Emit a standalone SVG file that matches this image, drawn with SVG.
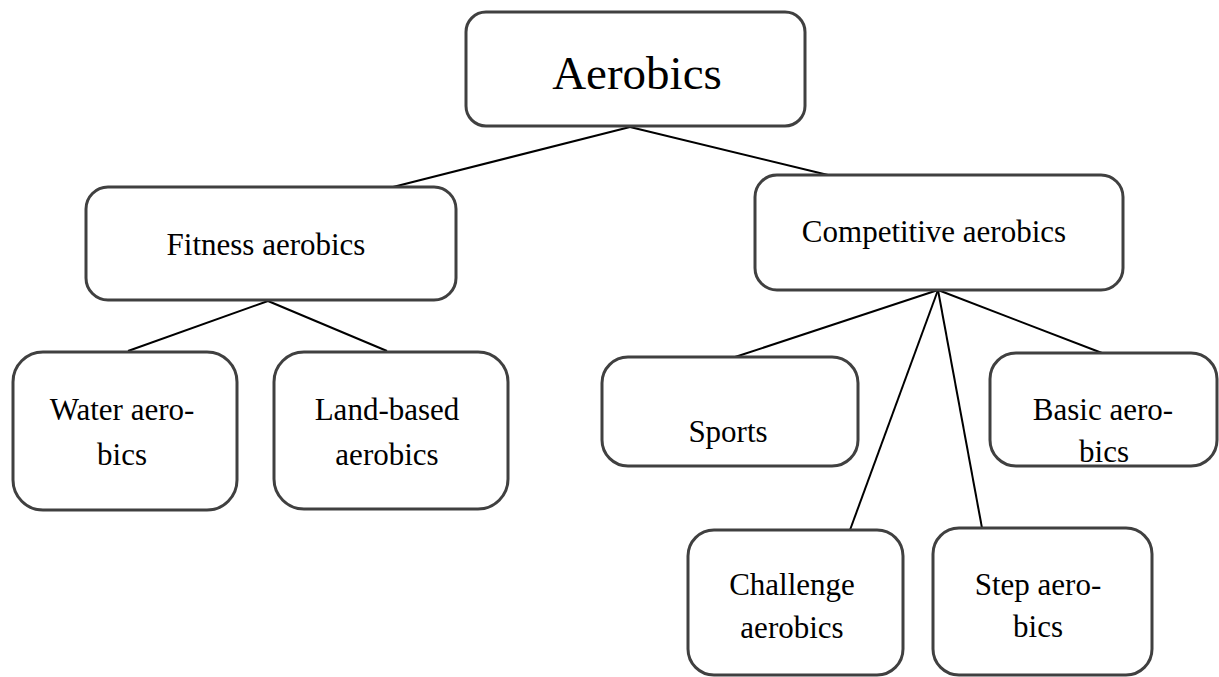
<svg xmlns="http://www.w3.org/2000/svg" width="1219" height="677" viewBox="0 0 1219 677">
<style>
.box{fill:#fff;stroke:#404040;stroke-width:3}
.lbl{font-family:"Liberation Serif","Times New Roman",serif;font-size:31px;fill:#000;text-anchor:middle}
.big{font-size:47px}
.conn line{stroke:#000;stroke-width:2}
</style>
<rect width="1219" height="677" fill="#fff"/>
<g class="conn">
<line x1="630" y1="127" x2="393" y2="187"/>
<line x1="630" y1="127" x2="828" y2="175"/>
<line x1="268" y1="301" x2="128" y2="351"/>
<line x1="268" y1="301" x2="387" y2="351"/>
<line x1="938" y1="290" x2="735" y2="357"/>
<line x1="938" y1="290" x2="850" y2="530"/>
<line x1="938" y1="290" x2="982" y2="528"/>
<line x1="938" y1="290" x2="1102" y2="353"/>
</g>
<g id="aerobics">
<rect class="box" x="466" y="12" width="339" height="114" rx="20"/>
<text class="lbl big" x="637" y="89">Aerobics</text>
</g>
<g id="fitness">
<rect class="box" x="86" y="187" width="370" height="113" rx="22"/>
<text class="lbl" x="266" y="255">Fitness aerobics</text>
</g>
<g id="competitive">
<rect class="box" x="755" y="175" width="368" height="115" rx="22"/>
<text class="lbl" x="934" y="242">Competitive aerobics</text>
</g>
<g id="water">
<rect class="box" x="13" y="352" width="224" height="158" rx="30"/>
<text class="lbl" x="122" y="420">Water aero-</text>
<text class="lbl" x="122" y="465">bics</text>
</g>
<g id="land">
<rect class="box" x="274" y="352" width="234" height="157" rx="30"/>
<text class="lbl" x="387" y="420">Land-based</text>
<text class="lbl" x="387" y="465">aerobics</text>
</g>
<g id="sports">
<rect class="box" x="602" y="357" width="256" height="109" rx="26"/>
<text class="lbl" x="728" y="442">Sports</text>
</g>
<g id="basic">
<rect class="box" x="990" y="353" width="227" height="113" rx="26"/>
<text class="lbl" x="1103" y="420">Basic aero-</text>
<text class="lbl" x="1104" y="462">bics</text>
</g>
<g id="challenge">
<rect class="box" x="688" y="530" width="215" height="145" rx="26"/>
<text class="lbl" x="792" y="595">Challenge</text>
<text class="lbl" x="792" y="638">aerobics</text>
</g>
<g id="step">
<rect class="box" x="933" y="528" width="219" height="147" rx="26"/>
<text class="lbl" x="1038" y="595">Step aero-</text>
<text class="lbl" x="1038" y="637">bics</text>
</g>
</svg>
